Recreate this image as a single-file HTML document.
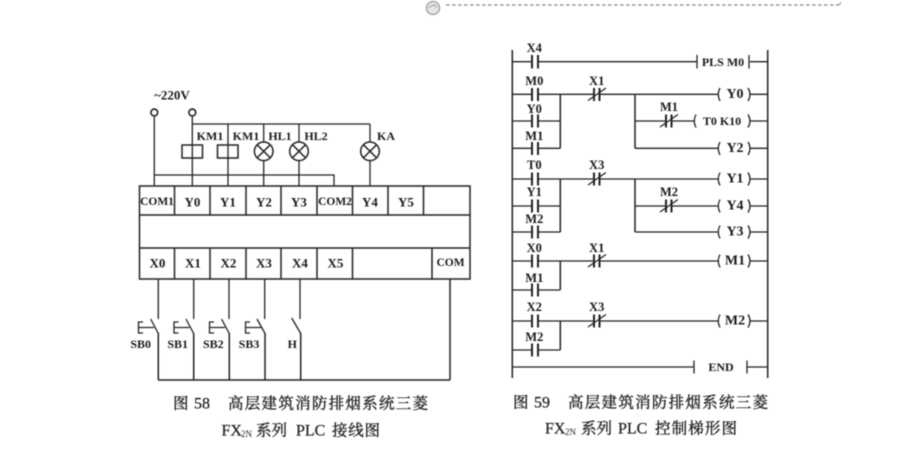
<!DOCTYPE html>
<html>
<head>
<meta charset="utf-8">
<style>
html,body{margin:0;padding:0;background:#fff;width:923px;height:452px;overflow:hidden}
svg{display:block;filter:blur(0.5px)}
.l{stroke:#222;stroke-width:1.3;fill:none}
.b{stroke:#222;stroke-width:1.5;fill:none}
.c{stroke:#222;stroke-width:2;fill:none}
text{font-family:"Liberation Serif","Noto Serif CJK SC",serif;fill:#1a1a1a;text-anchor:middle;dominant-baseline:central}
.t{font-size:13px;font-weight:bold}
.s{font-size:11.5px;font-weight:bold}
.m{font-size:12px;font-weight:bold}
.k{font-size:12.5px;font-weight:bold}
.o{font-size:14px;font-weight:bold}
.cap{font-size:15.5px;fill:#222;text-anchor:start;stroke:#222;stroke-width:.35}
.lat{font-size:16px;fill:#222;text-anchor:start;stroke:#222;stroke-width:.25}
.sub{font-size:9px;fill:#222;text-anchor:start}
</style>
</head>
<body>
<svg width="923" height="452" viewBox="0 0 923 452" xmlns="http://www.w3.org/2000/svg">
<!-- top decoration -->
<line x1="446" y1="5" x2="839" y2="5" stroke="#888" stroke-width="1.2" stroke-dasharray="3.5 2.5"/>
<path d="M839 5 L841 2.5" stroke="#777" stroke-width="1"/>
<circle cx="433" cy="8" r="6.5" fill="#e6e6e6" stroke="#aaa" stroke-width="1.6"/>
<path d="M429 8Q433 3 437 7" stroke="#999" fill="none"/>

<!-- PLC box -->
<rect x="139.5" y="186" width="330.5" height="93" class="b"/>
<path class="b" d="M139.5 215H470M139.5 248H470"/>
<path class="b" d="M174.5 186V215M210 186V215M246 186V215M281 186V215M317 186V215M352.5 186V215M388 186V215M423.5 186V215"/>
<path class="b" d="M174.5 248V279M210 248V279M246 248V279M281 248V279M317 248V279M352.5 248V279M432 248V279"/>
<text class="s" x="157" y="202">COM1</text>
<text class="t" x="192.5" y="202">Y0</text>
<text class="t" x="228" y="202">Y1</text>
<text class="t" x="264" y="202">Y2</text>
<text class="t" x="299" y="202">Y3</text>
<text class="s" x="335" y="202">COM2</text>
<text class="t" x="370" y="202">Y4</text>
<text class="t" x="406" y="202">Y5</text>
<text class="t" x="157.5" y="263">X0</text>
<text class="t" x="193" y="263">X1</text>
<text class="t" x="228.5" y="263">X2</text>
<text class="t" x="264" y="263">X3</text>
<text class="t" x="300" y="263">X4</text>
<text class="t" x="335.5" y="263">X5</text>
<text class="s" x="450.5" y="263">COM</text>

<!-- upper wiring -->
<circle cx="154.3" cy="112.5" r="3.4" fill="#fff" stroke="#222" stroke-width="1.6"/>
<circle cx="192.3" cy="112.5" r="3.4" fill="#fff" stroke="#222" stroke-width="1.6"/>
<text class="t" x="172" y="95">~220V</text>
<path class="l" d="M154.3 116V186M192.3 116V186M192.3 124H370M228 124V186M263.7 124V142M299 124V142M370 124V142"/>
<path class="l" d="M154.3 175H334V186M263.7 161V186M299 161V186M370 161V186"/>
<rect x="182" y="145" width="20.5" height="13" fill="#fff" class="b"/>
<rect x="217.5" y="145" width="20.5" height="13" fill="#fff" class="b"/>
<g class="b">
<circle cx="263.7" cy="151.3" r="9.3"/><path d="M257.1 144.7L270.3 157.9M270.3 144.7L257.1 157.9"/>
<circle cx="299" cy="151.3" r="9.3"/><path d="M292.4 144.7L305.6 157.9M305.6 144.7L292.4 157.9"/>
<circle cx="370" cy="151.3" r="9.3"/><path d="M363.4 144.7L376.6 157.9M376.6 144.7L363.4 157.9"/>
</g>
<text class="m" x="210" y="136">KM1</text>
<text class="m" x="246" y="136">KM1</text>
<text class="m" x="280" y="136">HL1</text>
<text class="m" x="316" y="136">HL2</text>
<text class="m" x="386" y="136">KA</text>

<!-- lower wiring -->
<path class="l" d="M158.3 279V319M193.7 279V319M229 279V319M264.7 279V319M300 279V319"/>
<path class="b" d="M158.3 333V380M193.7 333V380M229.3 333V380M265 333V380M300.7 333V380M450 279V380M158.3 380H450"/>
<path class="l" d="M150.7 319L158.3 333.5M186 319L193.7 333.5M221.5 319L229.3 333.5M257 319L265 333.5M291.7 318L300.7 333.5"/>
<path class="l" d="M143 322H138.5V333H143M138.5 327.5H154"/>
<path class="l" d="M178.5 322H174V333H178.5M174 327.5H189.5"/>
<path class="l" d="M214 322H209.5V333H214M209.5 327.5H225"/>
<path class="l" d="M250 322H245.5V333H250M245.5 327.5H261"/>
<text class="m" x="140.7" y="344">SB0</text>
<text class="m" x="177.7" y="344">SB1</text>
<text class="m" x="213.3" y="344">SB2</text>
<text class="m" x="249" y="344">SB3</text>
<text class="m" x="292.3" y="344">H</text>

<!-- caption 58 -->
<text class="cap" x="173" y="404">图</text>
<text class="lat" x="194" y="404">58</text>
<text class="cap" x="228" y="404" textLength="200">高层建筑消防排烟系统三菱</text>
<text class="lat" x="221.5" y="431">FX</text>
<text class="sub" x="241" y="434">2N</text>
<text class="cap" x="256" y="431">系列</text>
<text class="lat" x="296" y="431">PLC</text>
<text class="cap" x="332" y="431" textLength="48">接线图</text>

<!-- ladder rails -->
<path class="b" d="M512.3 50V378M767.7 50V378"/>

<!-- rung wires -->
<path class="l" d="M512.3 61.7H532M538 61.7H697M750 61.7H767.7"/>
<path class="l" d="M512.3 94.3H532M538 94.3H594M599 94.3H718M750 94.3H767.7"/>
<path class="l" d="M512.3 121H532M538 121H560.3M635 121H666M671 121H694M750 121H767.7"/>
<path class="l" d="M512.3 148.3H532M538 148.3H560.3M635 148.3H718M750 148.3H767.7"/>
<path class="l" d="M512.3 179H532M538 179H594M599 179H718M750 179H767.7"/>
<path class="l" d="M512.3 206H532M538 206H560.3M635 206H666M671 206H718M750 206H767.7"/>
<path class="l" d="M512.3 232H532M538 232H560.3M635 232H718M750 232H767.7"/>
<path class="l" d="M512.3 261H532M538 261H594M599 261H718M750 261H767.7"/>
<path class="l" d="M512.3 290H532M538 290H560.3"/>
<path class="l" d="M512.3 321H532M538 321H594M599 321H718M750 321H767.7"/>
<path class="l" d="M512.3 350H532M538 350H560.3"/>
<path class="l" d="M512.3 367H694M747 367H767.7"/>
<path class="b" d="M560.3 94.3V148.3M635 94.3V148.3M560.3 179V232M635 179V232M560.3 261V290M560.3 321V350"/>

<!-- NO contacts -->
<path class="c" d="M532 55V68.5M538 55V68.5M532 88V101M538 88V101M532 114.5V127.5M538 114.5V127.5M532 142V155M538 142V155M532 172.5V185.5M538 172.5V185.5M532 199.5V212.5M538 199.5V212.5M532 225.5V238.5M538 225.5V238.5M532 254.5V267.5M538 254.5V267.5M532 283.5V296.5M538 283.5V296.5M532 314.5V327.5M538 314.5V327.5M532 343.5V356.5M538 343.5V356.5"/>

<!-- NC contacts -->
<path class="c" d="M594 88V101M599.5 88V101M666 114.5V127.5M671.5 114.5V127.5M594 172.5V185.5M599.5 172.5V185.5M666 199.5V212.5M671.5 199.5V212.5M594 254.5V267.5M599.5 254.5V267.5M594 314.5V327.5M599.5 314.5V327.5"/>
<path class="l" d="M588 100.5L606 88M660 127L678 114.5M588 185L606 172.5M660 212L678 199.5M588 267L606 254.5M588 327L606 314.5"/>

<!-- brackets -->
<path class="l" d="M697 55V68.5M749 55V68.5"/>
<path class="l" d="M720 88Q716.5 94.3 720 101M748 88Q752 94.3 748 101"/>
<path class="l" d="M696 114.5Q692.5 121 696 127.5M748 114.5Q752 121 748 127.5"/>
<path class="l" d="M720 142Q716.5 148.3 720 155M748 142Q752 148.3 748 155"/>
<path class="l" d="M720 172.5Q716.5 179 720 185.5M748 172.5Q752 179 748 185.5"/>
<path class="l" d="M720 199.5Q716.5 206 720 212.5M748 199.5Q752 206 748 212.5"/>
<path class="l" d="M720 225.5Q716.5 232 720 238.5M748 225.5Q752 232 748 238.5"/>
<path class="l" d="M720 254.5Q716.5 261 720 267.5M748 254.5Q752 261 748 267.5"/>
<path class="l" d="M720 314.5Q716.5 321 720 327.5M748 314.5Q752 321 748 327.5"/>
<path class="l" d="M694 360.5V373.5M747 360.5V373.5"/>

<!-- contact labels -->
<text class="k" x="534.3" y="48">X4</text>
<text class="k" x="534.3" y="81">M0</text>
<text class="k" x="534.3" y="109">Y0</text>
<text class="k" x="534.3" y="136">M1</text>
<text class="k" x="596.7" y="81">X1</text>
<text class="k" x="669" y="107">M1</text>
<text class="k" x="534.3" y="165">T0</text>
<text class="k" x="596.7" y="165">X3</text>
<text class="k" x="534.3" y="192">Y1</text>
<text class="k" x="534.3" y="219">M2</text>
<text class="k" x="669" y="192">M2</text>
<text class="k" x="534.3" y="248">X0</text>
<text class="k" x="596.7" y="248">X1</text>
<text class="k" x="534.3" y="278">M1</text>
<text class="k" x="534.3" y="307">X2</text>
<text class="k" x="596.7" y="307">X3</text>
<text class="k" x="534.3" y="337">M2</text>

<!-- output labels -->
<text class="m" x="723" y="62">PLS M0</text>
<text class="o" x="735" y="94.5">Y0</text>
<text class="m" x="722" y="121">T0 K10</text>
<text class="o" x="735" y="148.5">Y2</text>
<text class="o" x="735" y="179">Y1</text>
<text class="o" x="735" y="206">Y4</text>
<text class="o" x="735" y="232">Y3</text>
<text class="o" x="735" y="261">M1</text>
<text class="o" x="735" y="321">M2</text>
<text class="m" x="721" y="367">END</text>

<!-- caption 59 -->
<text class="cap" x="513" y="403">图</text>
<text class="lat" x="534" y="403">59</text>
<text class="cap" x="568" y="403" textLength="200">高层建筑消防排烟系统三菱</text>
<text class="lat" x="545" y="429">FX</text>
<text class="sub" x="565" y="432">2N</text>
<text class="cap" x="581" y="429">系列</text>
<text class="lat" x="618" y="429">PLC</text>
<text class="cap" x="655" y="429" textLength="82">控制梯形图</text>
</svg>
</body>
</html>
